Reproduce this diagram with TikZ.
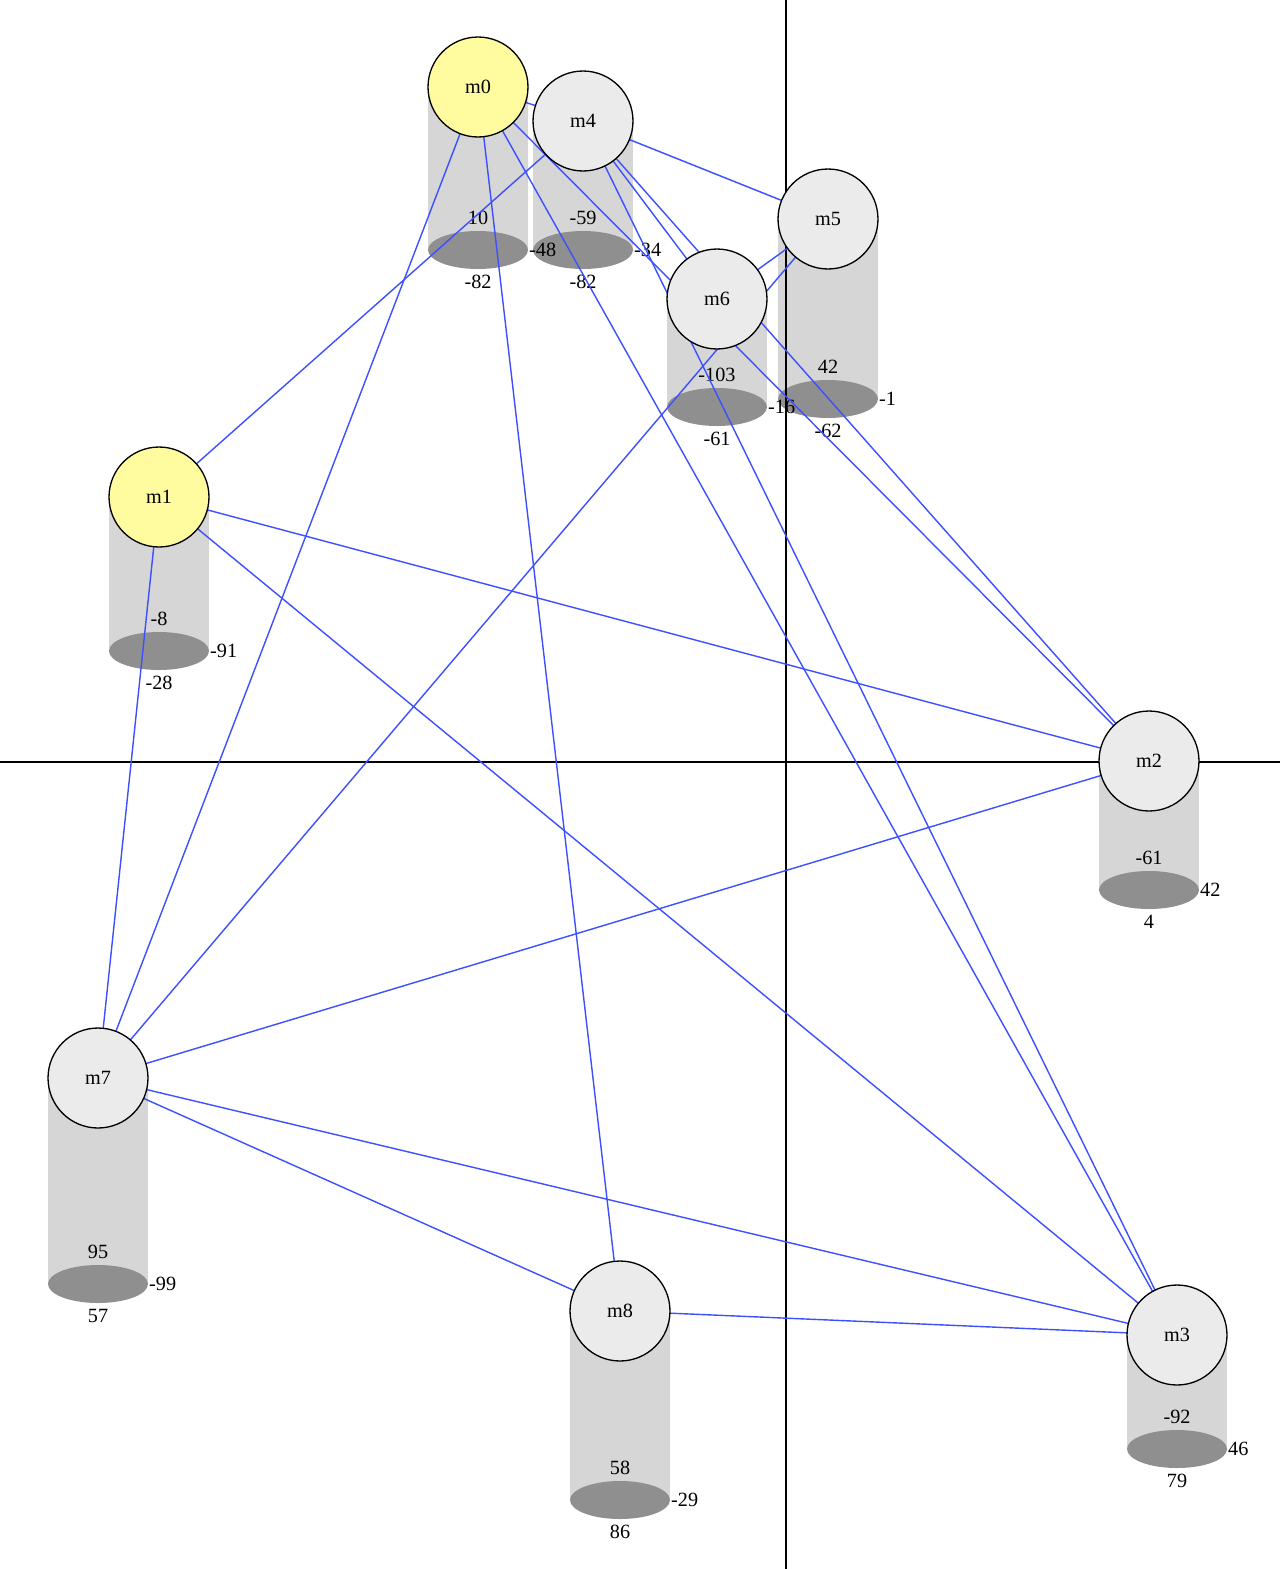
\documentclass[tikz,border=0pt]{standalone}
\usepackage{fontspec}
\setmainfont{Liberation Serif}
\usepackage{xcolor}
\usetikzlibrary{math}

\definecolor{nodegrey}{RGB}{235,235,235}
\definecolor{nodeyellow}{RGB}{255,252,160}
\definecolor{cylbody}{RGB}{214,214,214}
\definecolor{cylbase}{RGB}{143,143,143}
\definecolor{linkblue}{RGB}{60,80,255}

\begin{document}
\begin{tikzpicture}[x=0.02cm,y=-0.02cm,
    mnode/.style={circle,draw=black,line width=0.75pt,fill=nodegrey,
        minimum size=2cm,inner sep=0pt,font=\fontsize{11.5}{13}\selectfont},
    startnode/.style={mnode,fill=nodeyellow},
    link/.style={draw=linkblue,line width=0.8pt},
    axis/.style={draw=black,line width=0.6pt},
    num/.style={inner sep=0.5pt,font=\fontsize{11.5}{13}\selectfont}]
    \useasboundingbox (0,0) rectangle (1280,1569);
    \tikzmath{%
        \rr = 50;   % 圆半径
        \ry = 19;   % 底面椭圆
    }
    %% 圆心
    \coordinate (c0) at (478,87);
    \coordinate (c1) at (159,497);
    \coordinate (c2) at (1149,761);
    \coordinate (c3) at (1177,1335);
    \coordinate (c4) at (583,121);
    \coordinate (c5) at (828,219);
    \coordinate (c6) at (717,299);
    \coordinate (c7) at (98,1078);
    \coordinate (c8) at (620,1311);
    %% 圆柱: 圆心/高度
    \foreach \c/\h in {c0/163, c4/129, c6/108, c5/180, c1/154,
        c2/129, c7/206, c8/189, c3/114}{
        \fill[cylbody] (\c) ++(-\rr,0) rectangle ++(2*\rr,\h);
        \fill[cylbase] (\c) ++(0,\h) ellipse [x radius=\rr,y radius=\ry];
    }
    %% 数值: 圆心/高度/上/右/下  (画在所有圆柱之后)
    \foreach \c/\h/\tp/\rt/\lo in {c0/163/10/-48/-82, c4/129/-59/-34/-82,
        c6/108/-103/-16/-61, c5/180/42/-1/-62, c1/154/-8/-91/-28,
        c2/129/-61/42/4, c7/206/95/-99/57, c8/189/58/-29/86, c3/114/-92/46/79}{
        \path (\c) ++(0,\h-32) node[num] (top-\c) {\tp};
        \path (\c) ++(\rr,\h) node[num,anchor=west] (right-\c) {\rt};
        \path (\c) ++(0,\h+32) node[num] (low-\c) {\lo};
    }
    %% 坐标轴
    \coordinate (ytop) at (786,0);
    \coordinate (ybot) at (786,1569);
    \coordinate (xl) at (0,762);
    \coordinate (xr) at (1280,762);
    \draw[axis] (ytop) -- (ybot);
    \draw[axis] (xl) -- (xr);
    %% 连线
    \foreach \a/\z in {c0/c4, c0/c7, c0/c8, c0/c2, c0/c3,
        c4/c1, c4/c5, c4/c6, c4/c3, c4/c2,
        c6/c5, c5/c7, c1/c2, c1/c3, c1/c7,
        c2/c7, c7/c3, c7/c8, c8/c3}
        \draw[link] (\a) -- (\z);
    %% 节点
    \node[startnode] (m0) at (c0) {m0};
    \node[startnode] (m1) at (c1) {m1};
    \node[mnode] (m2) at (c2) {m2};
    \node[mnode] (m3) at (c3) {m3};
    \node[mnode] (m4) at (c4) {m4};
    \node[mnode] (m5) at (c5) {m5};
    \node[mnode] (m6) at (c6) {m6};
    \node[mnode] (m7) at (c7) {m7};
    \node[mnode] (m8) at (c8) {m8};
\end{tikzpicture}
\end{document}
